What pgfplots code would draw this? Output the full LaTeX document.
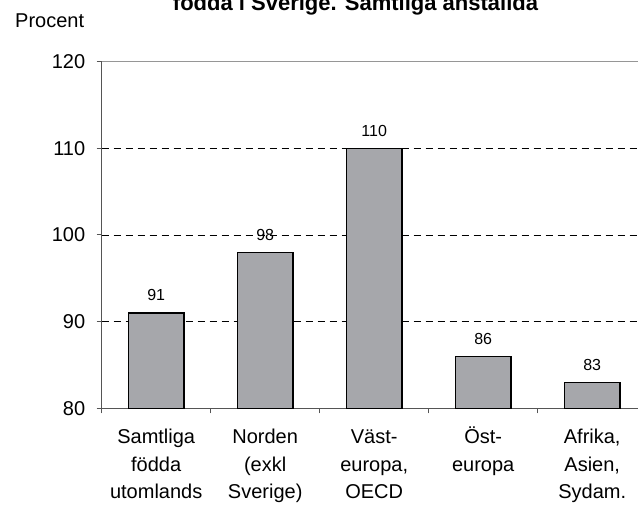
\documentclass[border=0pt]{standalone}
\usepackage{fontspec}
\setmainfont{Liberation Sans}
\usepackage{pgfplots}
\pgfplotsset{compat=1.18}

\definecolor{barfill}{RGB}{166,167,171}
\definecolor{axisgray}{RGB}{85,85,85}
\definecolor{topgray}{RGB}{150,150,150}
\newcommand{\F}{\vphantom{ÖÄ}}

\begin{document}
\begin{tikzpicture}
\begin{axis}[
    at={(101.7bp,-408.3bp)}, anchor=south west,
    scale only axis,
    width=545bp, height=346.7bp,
    xmin=0.5, xmax=5.5,
    ymin=80, ymax=120,
    axis lines*=left,
    axis line style={axisgray, line width=1bp},
    ytick={80,90,...,120},
    extra y ticks={90,100,110},
    extra y tick labels={},
    extra y tick style={ymajorgrids=true, major tick length=0pt},
    grid style={black, line width=0.8bp, dash pattern=on 7bp off 5bp},
    xtick={1,2,3,4,5},
    xticklabels={{\F Samtliga\\födda\\utomlands},{\F Norden\\(exkl\\Sverige)},{\F Väst-\\europa,\\OECD},{\F Öst-\\europa},{\F Afrika,\\Asien,\\Sydam.}},
    minor xtick={0.5,1.5,2.5,3.5,4.5,5.5},
    tick align=outside,
    major tick length=5bp,
    minor tick length=5bp,
    x tick style={draw=none},
    minor x tick style={axisgray, line width=1bp, draw=axisgray},
    y tick style={axisgray, line width=1bp},
    xticklabel style={font=\fontsize{20bp}{27.5bp}\selectfont, align=center, anchor=north, yshift=-10bp},
    yticklabel style={font=\fontsize{20bp}{22bp}\selectfont, xshift=-8bp},
    /pgf/number format/assume math mode=true,
    ybar,
    bar width=55.5bp,
    nodes near coords,
    every node near coord/.append style={font=\fontsize{16bp}{18bp}\selectfont, yshift=8bp},
    clip=false,
]
\addplot[fill=barfill, draw=black, line width=1.5bp] coordinates {
    (1,91) (2,98) (3,110) (4,86) (5,83)
};
\draw[topgray, line width=1.5bp] (rel axis cs:0,1) -- (rel axis cs:1,1);
\end{axis}
\node[anchor=base west, font=\fontsize{20bp}{24bp}\selectfont] at (11.7bp,-27.3bp) {Procent};
\node[anchor=base, font=\fontsize{22bp}{26bp}\selectfont\bfseries] at (355.5bp,-10bp) {födda i Sverige. Samtliga anställda};
\pgfresetboundingbox
\useasboundingbox (0,0) rectangle (638bp,-509bp);
\end{tikzpicture}
\end{document}
